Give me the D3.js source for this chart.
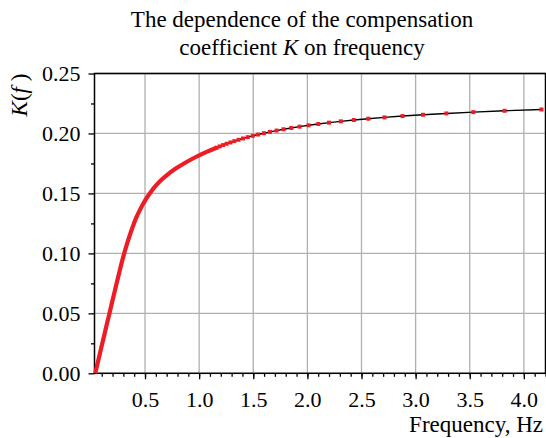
<!DOCTYPE html>
<html>
<head>
<meta charset="utf-8">
<script src="https://cdn.jsdelivr.net/npm/d3@7"></script>
<style>
  body { margin: 0; background: #fff; }
</style>
</head>
<body>
<svg></svg>
<script>
const width = 546;
const height = 438;
const serif = '"Liberation Serif", "Times New Roman", "DejaVu Serif", serif';

// dense part of the curve (points merge into a thick line)
const freqCurve = [0.040, 0.07, 0.11, 0.14, 0.17, 0.20, 0.235, 0.265, 0.30, 0.33, 0.36, 0.39,
    0.42, 0.46, 0.50, 0.55, 0.60, 0.65, 0.70, 0.78, 0.86, 0.93, 1.00, 1.08];
const kCurve = [0.000, 0.0115, 0.0267, 0.0381, 0.0495, 0.0609, 0.0741, 0.0852, 0.0975, 0.1068, 0.1153, 0.1230,
    0.1300, 0.1375, 0.1440, 0.1508, 0.1565, 0.1612, 0.1651, 0.1705, 0.1750, 0.1785, 0.1817, 0.1850];

// individually visible markers
const freqDots = [1.161, 1.190, 1.221, 1.254, 1.289, 1.325, 1.364, 1.405, 1.449, 1.495,
    1.545, 1.598, 1.654, 1.715, 1.780, 1.851, 1.928, 2.011, 2.101, 2.200,
    2.309, 2.429, 2.563, 2.712, 2.879, 3.068, 3.284, 3.533, 3.822, 4.163];
const kDots = [0.1881, 0.1892, 0.1903, 0.1914, 0.1925, 0.1936, 0.1947, 0.1958, 0.1969, 0.1980,
    0.1991, 0.2002, 0.2013, 0.2024, 0.2035, 0.2046, 0.2057, 0.2068, 0.2079, 0.2090,
    0.2101, 0.2112, 0.2123, 0.2134, 0.2145, 0.2156, 0.2167, 0.2178, 0.2189, 0.2200];

const xTicks = [0.5, 1.0, 1.5, 2.0, 2.5, 3.0, 3.5, 4.0];
const yTicks = [0.00, 0.05, 0.10, 0.15, 0.20, 0.25];
const xMinor = d3.range(1, 43).map(d => d / 10);
const yMinor = [0.025, 0.075, 0.125, 0.175, 0.225];

const plot = {left: 94.5, right: 545.5, top: 73.5, bottom: 373.3};

const svg = d3.select('svg').attr('width', width).attr('height', height);

const x = d3.scaleLinear().domain([0.0333, 4.2]).range([plot.left, plot.right]);
const y = d3.scaleLinear().domain([0, 0.25]).range([plot.bottom, plot.top]);

// grid
svg.append('g').selectAll('line').data(xTicks).enter().append('line')
    .attr('x1', d => x(d)).attr('x2', d => x(d))
    .attr('y1', plot.top).attr('y2', plot.bottom)
    .attr('stroke', '#b0b0b0').attr('stroke-width', 1.3);
svg.append('g').selectAll('line').data(yTicks).enter().append('line')
    .attr('x1', plot.left).attr('x2', plot.right)
    .attr('y1', d => y(d)).attr('y2', d => y(d))
    .attr('stroke', '#b0b0b0').attr('stroke-width', 1.3);

// axes
const xAxis = svg.append('g').attr('transform', `translate(0,${plot.bottom})`)
    .call(d3.axisBottom(x).tickValues(xTicks).tickFormat(d3.format('.1f')).tickSize(6).tickPadding(12));
const xAxisMinor = svg.append('g').attr('transform', `translate(0,${plot.bottom})`)
    .call(d3.axisBottom(x).tickValues(xMinor).tickFormat('').tickSize(3.5));
const yAxis = svg.append('g').attr('transform', `translate(${plot.left},0)`)
    .call(d3.axisLeft(y).tickValues(yTicks).tickFormat(d3.format('.2f')).tickSize(6).tickPadding(8));
const yAxisMinor = svg.append('g').attr('transform', `translate(${plot.left},0)`)
    .call(d3.axisLeft(y).tickValues(yMinor).tickFormat('').tickSize(3.5));

[xAxis, xAxisMinor, yAxis, yAxisMinor].forEach(g => {
    g.attr('font-family', serif).attr('font-size', 22);
    g.select('.domain').remove();
    g.selectAll('line').attr('stroke', '#000').attr('stroke-width', 1.3);
    g.selectAll('text').attr('fill', '#000');
});

// frame
svg.append('rect')
    .attr('x', plot.left).attr('y', plot.top)
    .attr('width', plot.right - plot.left).attr('height', plot.bottom - plot.top)
    .attr('fill', 'none').attr('stroke', '#000').attr('stroke-width', 1.5);

// black line through all points
const allF = freqCurve.concat(freqDots);
const allK = kCurve.concat(kDots);
const line = d3.line().x(d => x(d[0])).y(d => y(d[1])).curve(d3.curveMonotoneX);
svg.append('path')
    .datum(allF.map((f, i) => [f, allK[i]]))
    .attr('d', line)
    .attr('fill', 'none').attr('stroke', '#000').attr('stroke-width', 1.4);

// thick red where markers merge
svg.append('path')
    .datum(freqCurve.map((f, i) => [f, kCurve[i]]).concat([[freqDots[0], kDots[0]]]))
    .attr('d', line)
    .attr('fill', 'none').attr('stroke', '#ee1c25').attr('stroke-width', 4.2);

svg.append('g').selectAll('rect').data(freqDots.map((f, i) => [f, kDots[i]])).enter().append('rect')
    .attr('x', d => x(d[0]) - 2).attr('y', d => y(d[1]) - 2)
    .attr('width', 4).attr('height', 4)
    .attr('fill', '#ee1c25');

// title
const title = svg.append('text').attr('text-anchor', 'middle')
    .attr('font-family', serif).attr('font-size', 23).attr('fill', '#000');
title.append('tspan').attr('x', 302).attr('y', 27).text('The dependence of the compensation');
const t2 = title.append('tspan').attr('x', 302).attr('y', 55);
t2.append('tspan').text('coefficient ');
t2.append('tspan').attr('font-style', 'italic').text('K');
t2.append('tspan').text(' on frequency');

// axis labels
svg.append('text')
    .attr('x', 543).attr('y', 432)
    .attr('text-anchor', 'end')
    .attr('font-family', serif).attr('font-size', 23).attr('fill', '#000')
    .text('Frequency, Hz');

const yl = svg.append('text')
    .attr('transform', 'translate(27,95) rotate(-90)')
    .attr('text-anchor', 'middle')
    .attr('font-family', serif).attr('font-size', 23).attr('fill', '#000');
yl.append('tspan').attr('font-style', 'italic').text('K');
yl.append('tspan').text('(');
yl.append('tspan').attr('font-style', 'italic').text('f');
yl.append('tspan').text(' )');
</script>
</body>
</html>
